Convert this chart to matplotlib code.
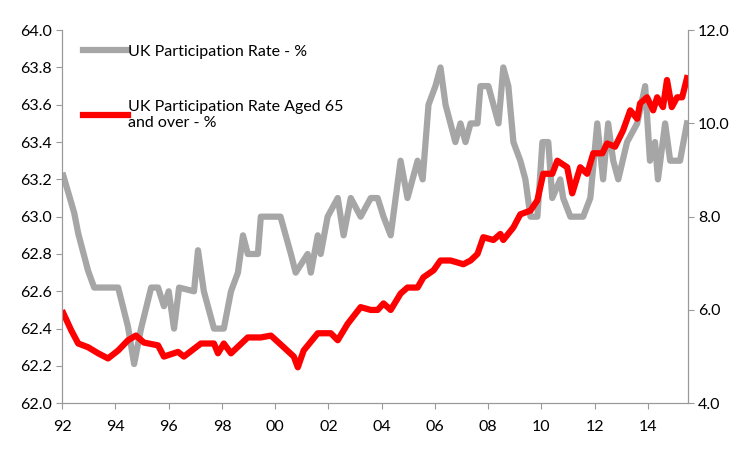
import matplotlib
matplotlib.use('Agg')
import matplotlib.pyplot as plt
import numpy as np

plt.rcParams['font.family'] = ['Lato', 'DejaVu Sans']

# years since Jan 1992
gray_t = [0.04, .45, .6, .97, 1.2, 2.1, 2.47, 2.7, 2.96, 3.34, 3.6, 3.82, 4.0, 4.2, 4.39, 4.95, 5.1, 5.32,
          5.7, 6.07, 6.34, 6.6, 6.79, 6.97, 7.35, 7.46, 7.95, 8.2, 8.59, 8.77, 9.22, 9.34, 9.6, 9.71, 9.97,
          10.35, 10.57, 10.84, 11.21, 11.59, 11.85, 12.07, 12.34, 12.71, 12.97, 13.16, 13.35, 13.54, 13.76,
          14.02, 14.21, 14.4, 14.77, 14.96, 15.15, 15.34, 15.6, 15.71, 16.01, 16.2, 16.39, 16.57, 16.76,
          16.95, 17.21, 17.4, 17.59, 17.85, 18.04, 18.26, 18.41, 18.71, 18.82, 19.09, 19.35, 19.57, 19.84,
          20.1, 20.32, 20.51, 20.7, 20.89, 21.22, 21.6, 21.9, 22.08, 22.27, 22.38, 22.65, 22.84, 23.21, 23.47]
gray_v = [63.22, 63.02, 62.91, 62.71, 62.62, 62.62, 62.41, 62.21, 62.4, 62.62, 62.62, 62.52, 62.6, 62.4, 62.62,
          62.6, 62.82, 62.6, 62.4, 62.4, 62.6, 62.7, 62.9, 62.8, 62.8, 63.0, 63.0, 63.0, 62.8, 62.7, 62.8, 62.7,
          62.9, 62.8, 63.0, 63.1, 62.9, 63.1, 63.0, 63.1, 63.1, 63.0, 62.9, 63.3, 63.1, 63.2, 63.3, 63.2, 63.6,
          63.7, 63.8, 63.6, 63.4, 63.5, 63.4, 63.5, 63.5, 63.7, 63.7, 63.6, 63.5, 63.8, 63.7, 63.4, 63.3, 63.2,
          63.0, 63.0, 63.4, 63.4, 63.1, 63.2, 63.1, 63.0, 63.0, 63.0, 63.1, 63.5, 63.2, 63.5, 63.3, 63.2, 63.4,
          63.5, 63.7, 63.3, 63.4, 63.2, 63.5, 63.3, 63.3, 63.5]

red_t = [0.04, .34, .6, .97, 1.35, 1.72, 2.1, 2.47, 2.77, 3.07, 3.6, 3.82, 4.35, 4.57, 5.21, 5.7, 5.85, 6.07,
         6.34, 6.97, 7.46, 7.84, 8.32, 8.7, 8.85, 9.07, 9.6, 10.09, 10.35, 10.72, 11.21,
         11.59, 11.85, 12.07, 12.34, 12.71, 12.97, 13.35, 13.57, 13.95, 14.21, 14.59, 15.07, 15.34, 15.6, 15.82,
         16.2, 16.46, 16.57, 16.95, 17.21, 17.59, 17.85, 18.07, 18.41, 18.6, 18.97, 19.16, 19.46, 19.72, 19.95,
         20.29, 20.47, 20.77, 21.07, 21.34, 21.6, 21.71, 21.97, 22.2, 22.35, 22.57, 22.72, 22.9, 23.1, 23.29, 23.47]
red_v = [5.93, 5.56, 5.28, 5.2, 5.07, 4.96, 5.13, 5.35, 5.45, 5.3, 5.24, 5.0, 5.1, 5.0, 5.28, 5.28, 5.07, 5.28,
         5.07, 5.41, 5.41, 5.45, 5.2, 5.0, 4.77, 5.13, 5.5, 5.5, 5.35, 5.7, 6.06,
         6.0, 6.0, 6.14, 6.0, 6.35, 6.48, 6.48, 6.7, 6.85, 7.06, 7.06, 6.98, 7.06, 7.2, 7.56, 7.5, 7.63, 7.5,
         7.77, 8.05, 8.13, 8.35, 8.92, 8.92, 9.2, 9.06, 8.5, 9.06, 8.92, 9.36, 9.36, 9.57, 9.5, 9.85, 10.28,
         10.1, 10.43, 10.56, 10.28, 10.56, 10.35, 10.93, 10.35, 10.56, 10.56, 10.97]

tick_years = list(range(1992, 2015, 2))
tick_labels = ['92', '94', '96', '98', '00', '02', '04', '06', '08', '10', '12', '14']

fig = plt.figure(figsize=(7.5, 4.5), dpi=100)
ax = fig.add_axes([0.083, 0.104, 0.834, 0.829])
ax2 = ax.twinx()

l1, = ax.plot(1992 + np.array(gray_t), gray_v, color='#A6A6A6', lw=4.5, solid_joinstyle='round')
l2, = ax2.plot(1992 + np.array(red_t), red_v, color='#FF0000', lw=4.5, solid_joinstyle='round')

ax.set_xlim(1992, 2015.5)
ax.set_ylim(62.0, 64.0)
ax2.set_ylim(4.0, 12.0)
ax.set_yticks(np.arange(62.0, 64.01, 0.2))
ax.set_yticklabels(['%.1f' % v for v in np.arange(62.0, 64.01, 0.2)])
ax2.set_yticks(np.arange(4.0, 12.01, 2.0))
ax2.set_yticklabels(['%.1f' % v for v in np.arange(4.0, 12.01, 2.0)])
ax.set_xticks(tick_years)
ax.set_xticklabels(tick_labels)

for a in (ax, ax2):
    a.spines['top'].set_visible(False)
    for s in ('left', 'right', 'bottom'):
        a.spines[s].set_color('#999999')
    a.tick_params(colors='#999999', labelcolor='black', labelsize=11.5, length=4)
ax.tick_params(axis='x', pad=8)

ax.legend([l1, l2], ['UK Participation Rate - %', 'UK Participation Rate Aged 65\nand over - %'],
          loc='upper left', bbox_to_anchor=(0.01, 1.0), frameon=False, fontsize=11.5,
          handlelength=2.8, handletextpad=0.0, labelspacing=2.6)

fig.savefig('out.png', dpi=100)
